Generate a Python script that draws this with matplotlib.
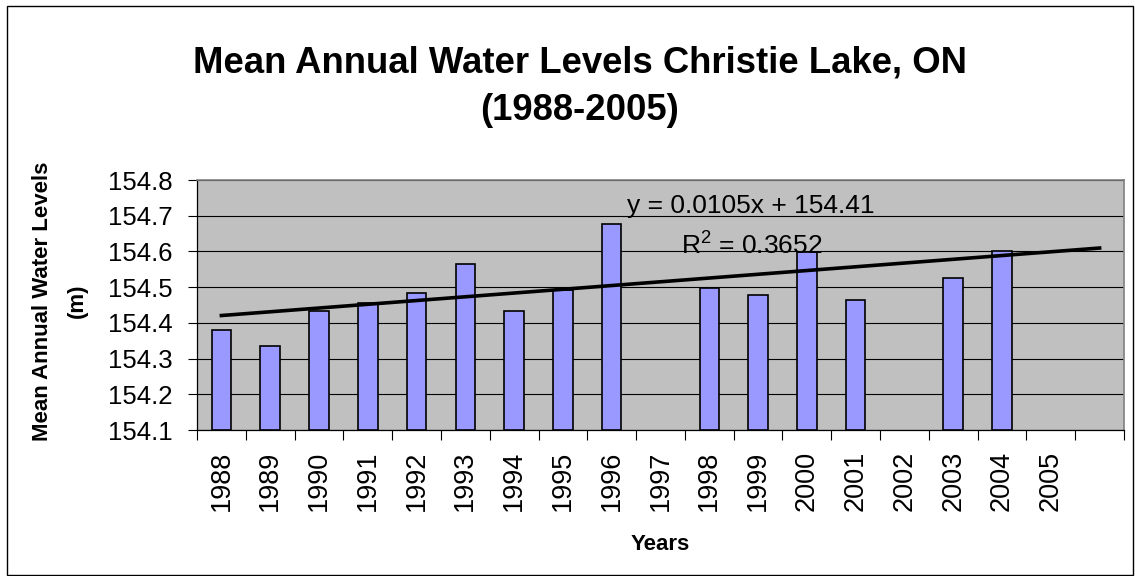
import numpy as np
import matplotlib.pyplot as plt
from matplotlib.patches import Rectangle

plt.rcParams['font.family'] = ['Liberation Sans', 'DejaVu Sans']
plt.rcParams['mathtext.fontset'] = 'custom'
plt.rcParams['mathtext.rm'] = 'Liberation Sans'
plt.rcParams['mathtext.it'] = 'Liberation Sans:italic'

# data (nan = no bar)
years = ['1988', '1989', '1990', '1991', '1992', '1993', '1994', '1995', '1996', '1997',
         '1998', '1999', '2000', '2001', '2002', '2003', '2004', '2005', '']
levels = [154.38, 154.336, 154.434, 154.455, 154.483, 154.565, 154.433, 154.492, 154.677, np.nan,
          154.499, 154.477, 154.599, 154.463, np.nan, 154.527, 154.60, np.nan, np.nan]

# excel linear trendline (x = 1..n)
slope = 0.0105
intercept = 154.41
r2 = 0.3652

ymin, ymax = 154.1, 154.8

fig = plt.figure(figsize=(11.35, 5.76), dpi=100)
ax = fig.add_axes([197 / 1135, 1 - 430 / 576, (1124 - 197) / 1135, (430 - 180) / 576])
ax.set_facecolor('#C0C0C0')

x = np.arange(len(years))
vals = np.array(levels)
ok = ~np.isnan(vals)
ax.bar(x[ok], vals[ok] - ymin, bottom=ymin, width=0.4, color='#9999FF',
       edgecolor='black', linewidth=1.2, zorder=3)

# trendline
trend = intercept + slope * (x + 1)
ax.plot(x, trend, color='black', linewidth=2.6, zorder=4)

ax.set_xlim(-0.5, len(years) - 0.5)
ax.set_ylim(ymin, ymax)
ax.set_yticks(np.arange(154.1, 154.81, 0.1))
ax.set_yticklabels([f'{v:.1f}' for v in np.arange(154.1, 154.81, 0.1)])
ax.yaxis.grid(True, color='black', linewidth=0.8, zorder=0)
ax.set_axisbelow(True)

# ticks on boundaries, labels at centers
ax.set_xticks(np.arange(-0.5, len(years), 1.0))
ax.set_xticklabels([])
ax.set_xticks(x, minor=True)
ax.set_xticklabels(years, minor=True, rotation=90, fontsize=19.5)
ax.tick_params(axis='x', which='major', direction='out', length=7, width=0.8)
ax.tick_params(axis='x', which='minor', length=0, pad=15)
ax.tick_params(axis='y', direction='out', length=6.5, width=0.8, labelsize=18.5, pad=11)

for s in ['left', 'bottom']:
    ax.spines[s].set_color('black')
    ax.spines[s].set_linewidth(0.9)
for s in ['top', 'right']:
    ax.spines[s].set_color('#808080')
    ax.spines[s].set_linewidth(1.2)

ax.set_xlabel('Years', fontsize=16, fontweight='bold', labelpad=16)
fig.text(43 / 1135, 1 - 301 / 576, 'Mean Annual Water Levels', rotation=90, fontsize=16,
         fontweight='bold', ha='center', va='center')
fig.text(77 / 1135, 1 - 301 / 576, '(m)', rotation=90, fontsize=16,
         fontweight='bold', ha='center', va='center')

fig.text(580 / 1135, 1 - 72 / 576, 'Mean Annual Water Levels Christie Lake, ON', fontsize=26.3,
         fontweight='bold', ha='center', va='baseline')
fig.text(580 / 1135, 1 - 120 / 576, '(1988-2005)', fontsize=26.3,
         fontweight='bold', ha='center', va='baseline')

fig.text(751 / 1135, 1 - 213 / 576, f'y = {slope}x + {intercept}', fontsize=19,
         ha='center', va='baseline', zorder=5)
fig.text(752 / 1135, 1 - 255 / 576, f'R$^{{2}}$ = {r2}', fontsize=19,
         ha='center', va='baseline', zorder=5)

# chart border
fig.patches.append(Rectangle((7 / 1135, 1 / 576), 1126 / 1135, 569 / 576, transform=fig.transFigure,
                             fill=False, edgecolor='black', linewidth=1.0))

fig.savefig('out.png', dpi=100)
